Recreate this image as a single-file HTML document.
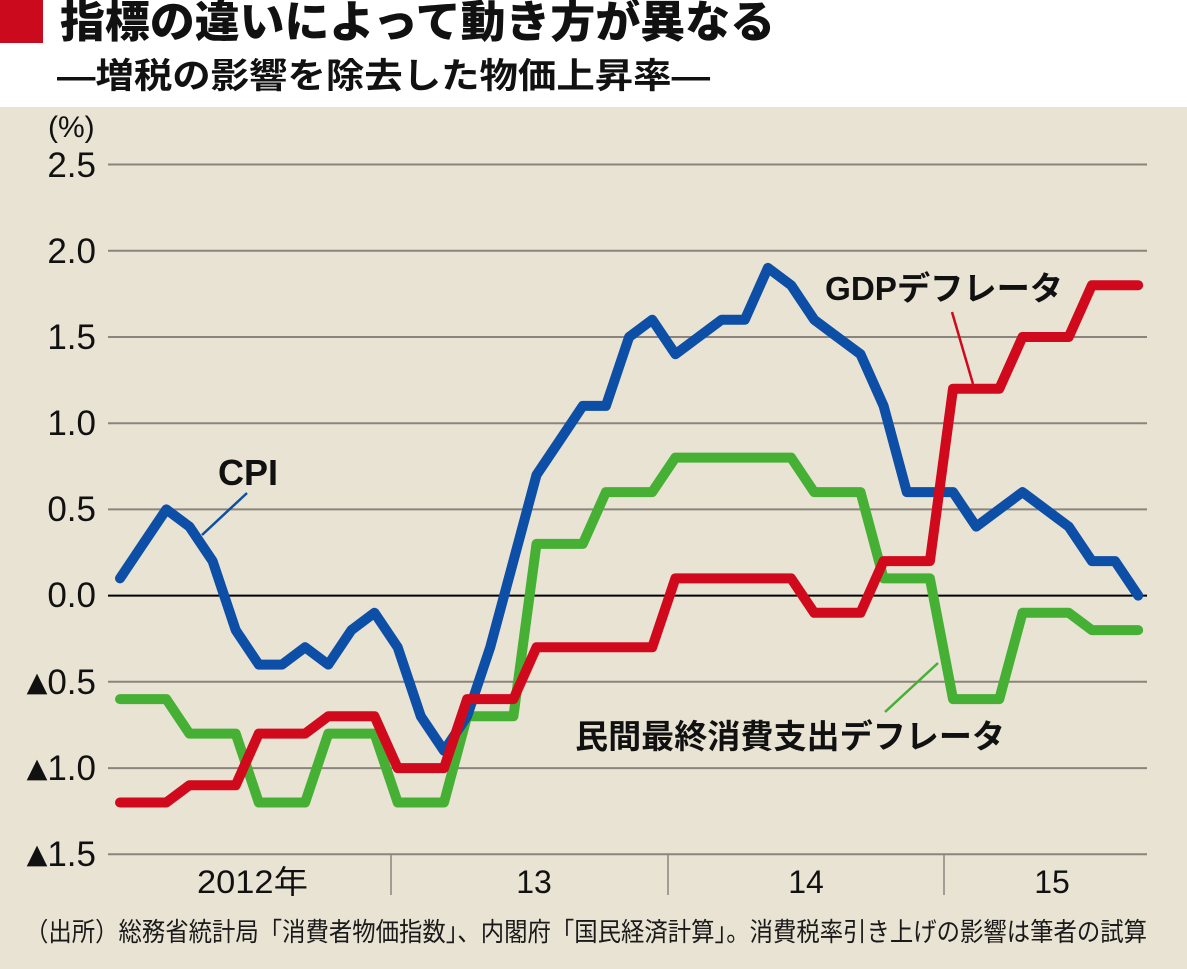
<!DOCTYPE html>
<html>
<head>
<meta charset="utf-8">
<style>
  html, body { margin: 0; padding: 0; background: #ffffff; }
  svg { display: block; }
  .jp { font-family: "Liberation Sans", "Noto Sans CJK JP", sans-serif; }
  .lat { font-family: "Liberation Sans", "Noto Sans CJK JP", sans-serif; }
</style>
</head>
<body>
<svg width="1187" height="969" viewBox="0 0 1187 969" xmlns="http://www.w3.org/2000/svg">
  <!-- backgrounds -->
  <rect x="0" y="0" width="1187" height="107" fill="#ffffff"/>
  <rect x="0" y="107" width="1187" height="862" fill="#e9e3d4"/>

  <!-- header -->
  <rect x="0" y="0" width="43" height="43" fill="#cc0a1e"/>
  <text class="jp" x="60" y="37" font-size="44" font-weight="900" fill="#111" textLength="715" lengthAdjust="spacingAndGlyphs">指標の違いによって動き方が異なる</text>
  <text class="jp" x="57" y="88" font-size="35" font-weight="700" fill="#111" textLength="653" lengthAdjust="spacingAndGlyphs">―増税の影響を除去した物価上昇率―</text>

  <!-- gridlines -->
  <g stroke="#8a847c" stroke-width="2">
    <line x1="108" y1="164.5" x2="1147" y2="164.5"/>
    <line x1="108" y1="250.7" x2="1147" y2="250.7"/>
    <line x1="108" y1="337.0" x2="1147" y2="337.0"/>
    <line x1="108" y1="423.2" x2="1147" y2="423.2"/>
    <line x1="108" y1="509.4" x2="1147" y2="509.4"/>
    <line x1="108" y1="681.8" x2="1147" y2="681.8"/>
    <line x1="108" y1="768.1" x2="1147" y2="768.1"/>
    <line x1="108" y1="854.3" x2="1147" y2="854.3"/>
  </g>
  <line x1="108" y1="595.6" x2="1147" y2="595.6" stroke="#000" stroke-width="2"/>

  <!-- x ticks -->
  <g stroke="#8a847c" stroke-width="1.5">
    <line x1="391" y1="854" x2="391" y2="895"/>
    <line x1="668" y1="854" x2="668" y2="895"/>
    <line x1="944" y1="854" x2="944" y2="895"/>
  </g>

  <!-- y labels -->
  <g class="lat" font-size="35" fill="#111" text-anchor="end">
    <text x="48" y="137" font-size="30" text-anchor="start">(%)</text>
    <text x="96" y="177">2.5</text>
    <text x="96" y="263">2.0</text>
    <text x="96" y="349">1.5</text>
    <text x="96" y="435">1.0</text>
    <text x="96" y="521">0.5</text>
    <text x="96" y="607">0.0</text>
    <text x="96" y="694"><tspan font-family="DejaVu Sans" font-size="27" dy="-3">▲</tspan><tspan dy="3">0.5</tspan></text>
    <text x="96" y="780"><tspan font-family="DejaVu Sans" font-size="27" dy="-3">▲</tspan><tspan dy="3">1.0</tspan></text>
    <text x="96" y="866"><tspan font-family="DejaVu Sans" font-size="27" dy="-3">▲</tspan><tspan dy="3">1.5</tspan></text>
  </g>

  <!-- x labels -->
  <g class="jp" font-size="32" fill="#111">
    <text x="197" y="893" textLength="111" lengthAdjust="spacingAndGlyphs">2012年</text>
    <text x="534" y="893" text-anchor="middle">13</text>
    <text x="806" y="893" text-anchor="middle">14</text>
    <text x="1052" y="893" text-anchor="middle">15</text>
  </g>

  <!-- series -->
  <g fill="none" stroke-width="10" stroke-linecap="round" stroke-linejoin="round">
    <polyline stroke="#46b035" points="120,699.1 143.1,699.1 166.3,699.1 189.4,733.6 212.6,733.6 235.7,733.6 258.8,802.5 282,802.5 305.1,802.5 328.3,733.6 351.4,733.6 374.5,733.6 397.7,802.5 420.8,802.5 444,802.5 467.1,716.3 490.2,716.3 513.4,716.3 536.5,543.9 559.7,543.9 582.8,543.9 605.9,492.1 629.1,492.1 652.2,492.1 675.4,457.6 791.1,457.6 814.2,492.1 860.5,492.1 883.6,578.4 929.9,578.4 953,699.1 999.3,699.1 1022.5,612.8 1068.7,612.8 1091.9,630.1 1138.2,630.1"/>
    <polyline stroke="#0d4ea6" points="120,578.4 143.1,543.9 166.3,509.4 189.4,526.6 212.6,561.1 235.7,630.1 258.8,664.6 282,664.6 305.1,647.3 328.3,664.6 351.4,630.1 374.5,612.8 397.7,647.3 420.8,716.3 444,750.8 467.1,716.3 490.2,647.3 513.4,561.1 536.5,474.9 559.7,440.4 582.8,405.9 605.9,405.9 629.1,337 652.2,319.7 675.4,354.2 698.5,337 721.6,319.7 744.8,319.7 767.9,267.9 791.1,285.2 814.2,319.7 837.3,337 860.5,354.2 883.6,405.9 906.8,492.1 929.9,492.1 953,492.1 976.2,526.6 999.3,509.4 1022.5,492.1 1045.6,509.4 1068.7,526.6 1091.9,561.1 1115,561.1 1138.2,595.6"/>
    <polyline stroke="#d00a1c" points="120,802.5 166.3,802.5 189.4,785.3 235.7,785.3 258.8,733.6 305.1,733.6 328.3,716.3 374.5,716.3 397.7,768.1 444,768.1 467.1,699.1 513.4,699.1 536.5,647.3 652.2,647.3 675.4,578.4 791.1,578.4 814.2,612.8 860.5,612.8 883.6,561.1 929.9,561.1 953,388.7 999.3,388.7 1022.5,337 1068.7,337 1091.9,285.2 1138.2,285.2"/>
  </g>

  <!-- leaders -->
  <line x1="247" y1="493" x2="202" y2="535" stroke="#0d4ea6" stroke-width="2.5"/>
  <line x1="952" y1="312" x2="973" y2="384" stroke="#d00a1c" stroke-width="2.5"/>
  <line x1="885" y1="712" x2="938" y2="663" stroke="#46b035" stroke-width="2.5"/>

  <!-- series labels -->
  <text class="lat" x="218" y="485" font-size="36" font-weight="700" fill="#111" textLength="60" lengthAdjust="spacingAndGlyphs">CPI</text>
  <text class="jp" x="825" y="300" font-size="33" font-weight="700" fill="#111" textLength="238" lengthAdjust="spacingAndGlyphs">GDPデフレータ</text>
  <text class="jp" x="575" y="748" font-size="33" font-weight="700" fill="#111" textLength="430" lengthAdjust="spacingAndGlyphs">民間最終消費支出デフレータ</text>

  <!-- footnote -->
  <text class="jp" x="25" y="941" font-size="26" fill="#1a1a1a" textLength="1122" lengthAdjust="spacingAndGlyphs">（出所）総務省統計局「消費者物価指数」、内閣府「国民経済計算」。消費税率引き上げの影響は筆者の試算</text>
</svg>
</body>
</html>
